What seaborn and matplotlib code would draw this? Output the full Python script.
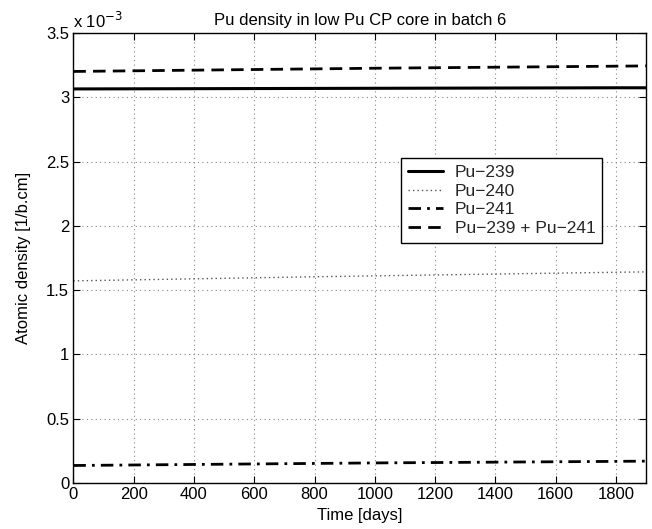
import numpy as np
import pandas as pd
import seaborn as sns
import matplotlib
matplotlib.use("Agg")
import matplotlib.pyplot as plt
from matplotlib.ticker import FuncFormatter, MultipleLocator

# Time grid and atomic densities (1/b.cm)
days = [0, 200, 400, 600, 800, 1000, 1200, 1400, 1600, 1800, 1900]
pu239 = [3.065e-3, 3.066e-3, 3.067e-3, 3.068e-3, 3.069e-3, 3.070e-3,
         3.071e-3, 3.072e-3, 3.073e-3, 3.074e-3, 3.074e-3]
pu240 = [1.572e-3, 1.580e-3, 1.588e-3, 1.596e-3, 1.604e-3, 1.611e-3,
         1.618e-3, 1.625e-3, 1.632e-3, 1.639e-3, 1.642e-3]
pu241 = [0.136e-3, 0.140e-3, 0.144e-3, 0.148e-3, 0.152e-3, 0.156e-3,
         0.159e-3, 0.162e-3, 0.165e-3, 0.168e-3, 0.170e-3]
pu_fissile = [a + b for a, b in zip(pu239, pu241)]

series_names = ["Pu\u2212239", "Pu\u2212240", "Pu\u2212241", "Pu\u2212239 + Pu\u2212241"]
series_values = [pu239, pu240, pu241, pu_fissile]

sns.set_theme(style="white")
plt.rcParams["font.family"] = ["Liberation Sans", "DejaVu Sans"]
plt.rcParams["axes.unicode_minus"] = True

fig = plt.figure(figsize=(6.52, 5.29), dpi=100)
ax = fig.add_axes([0.1125, 0.087, 0.8785, 0.8506])

styles = [
    dict(linestyle="-", linewidth=2.2, color="black"),
    dict(linestyle=(0, (1, 2.2)), linewidth=1.0, color="#555555"),
    dict(linestyle=(0, (4.5, 2.2, 1, 2.2)), linewidth=2.0, color="black"),
    dict(linestyle=(0, (4.5, 2.6)), linewidth=2.0, color="black"),
]

for name, vals, st in zip(series_names, series_values, styles):
    df = pd.DataFrame({"Time": days, "Density": vals})
    sns.lineplot(data=df, x="Time", y="Density", ax=ax, label=name, **st)

ax.set_xlim(0, 1900)
ax.set_ylim(0, 3.5e-3)
ax.xaxis.set_major_locator(MultipleLocator(200))
ax.yaxis.set_major_locator(MultipleLocator(0.5e-3))
ax.yaxis.set_major_formatter(FuncFormatter(lambda v, p: "%g" % round(v * 1e3, 6)))

ax.grid(True, color="#888888", linestyle=(0, (1, 3)), linewidth=0.8)
for s in ax.spines.values():
    s.set_color("black")
    s.set_linewidth(1.0)
    s.set_visible(True)

ax.tick_params(direction="in", length=5, width=0.8, color="black",
               labelsize=12, top=True, right=True, bottom=True, left=True,
               labelcolor="black", pad=3)

ax.set_xlabel("Time [days]", fontsize=12, labelpad=4, color="black")
ax.set_ylabel("Atomic density [1/b.cm]", fontsize=12, labelpad=11, color="black")
ax.set_title("Pu density in low Pu CP core in batch 6", fontsize=12, pad=6, color="black")

ax.text(0.0, 1.005, "x 10$^{-3}$", transform=ax.transAxes, fontsize=12,
        ha="left", va="bottom", color="black")

leg = ax.legend(loc="upper left", bbox_to_anchor=(0.572, 0.722), fontsize=12.5,
                frameon=True, fancybox=False, edgecolor="black", framealpha=1,
                handlelength=2.0, handletextpad=0.7, borderpad=0.4,
                labelspacing=0.2, borderaxespad=0)
leg.get_frame().set_linewidth(1.0)

fig.savefig("out.png", dpi=100)
